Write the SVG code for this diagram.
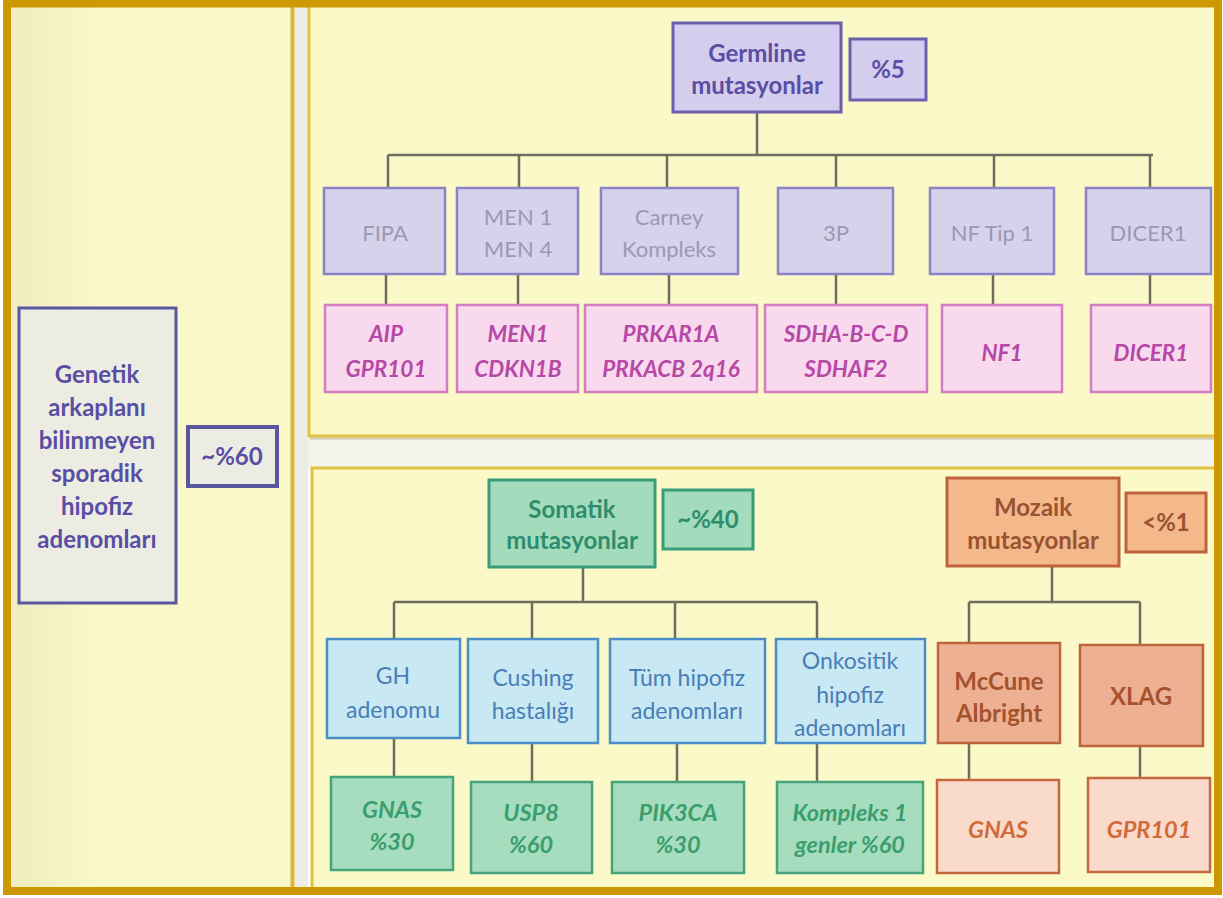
<svg xmlns="http://www.w3.org/2000/svg" width="1223" height="898" viewBox="0 0 1223 898">
<defs>
<linearGradient id="lg" x1="0" y1="0" x2="1" y2="0">
<stop offset="0" stop-color="#EEECC0"/>
<stop offset="0.3" stop-color="#FAF8C8"/>
<stop offset="1" stop-color="#FAF8C8"/>
</linearGradient>
<style>
text{font-family:Lato,"Liberation Sans",sans-serif;text-anchor:middle}
.con{fill:none;stroke:#6E6E5E;stroke-width:2.5}
.pur{fill:#D4CDEE;stroke:#6C60AE;stroke-width:3}
.purt{fill:#5A4EA4;font-weight:bold;font-size:24px}
.lav{fill:#D7D2EC;stroke:#8B83C6;stroke-width:2.5}
.lavt{fill:#9A98B4;font-size:22px}
.pink{fill:#F9D9EE;stroke:#D47DC0;stroke-width:2.5}
.pinkt{fill:#B648A6;font-weight:bold;font-style:italic;font-size:22.5px}
.grn{fill:#A3DCBC;stroke:#3A9C7A;stroke-width:3}
.grnt{fill:#2E8D6C;font-weight:bold;font-size:24px}
.blu{fill:#C8E8F4;stroke:#4A8EC8;stroke-width:2.5}
.blut{fill:#4A7EB6;font-size:23px}
.gg{fill:#A6DDBE;stroke:#45A47E;stroke-width:2.5}
.ggt{fill:#3A9E6E;font-weight:bold;font-style:italic;font-size:23.5px}
.org{fill:#F4B98B;stroke:#BF633A;stroke-width:3}
.orgt{fill:#9A5230;font-weight:bold;font-size:24px}
.sal{fill:#EEB093;stroke:#BF633A;stroke-width:2.5}
.salt{fill:#A6522E;font-weight:bold;font-size:24px}
.pch{fill:#FADACB;stroke:#C4683E;stroke-width:2.5}
.pcht{fill:#CF6C3A;font-weight:bold;font-style:italic;font-size:23.5px}
</style>
</defs>
<rect x="0" y="0" width="1223" height="898" fill="#FFFFFF"/>
<rect x="11" y="7" width="282" height="881" fill="url(#lg)"/>
<rect x="295" y="7" width="13" height="881" fill="#ECECE4"/>
<line x1="292.500" y1="7" x2="292.500" y2="888" stroke="#D9B83A" stroke-width="4"/>
<rect x="308" y="436" width="906" height="32" fill="#F3F3EC"/>
<rect x="309" y="5" width="909" height="431" fill="#FBF9C8" stroke="#E0C343" stroke-width="3"/>
<line x1="310" y1="438.500" x2="1214" y2="438.500" stroke="#CFC8A8" stroke-width="2"/>
<rect x="312" y="468" width="906" height="423" fill="#FBF9C8" stroke="#E0C343" stroke-width="3"/>
<rect x="7" y="3.500" width="1211" height="887.500" fill="none" stroke="#CC9900" stroke-width="8"/>

<g id="connectors">
<path class="con" d="M757 112V155M388 155H1153M388 155V188M519 155V188M667 155V188M836 155V188M994 155V188M1150 155V188"/>
<path class="con" d="M386 274V305M518 274V305M669 274V305M836 274V305M993 274V305M1150 274V305"/>
<path class="con" d="M583 567V602M394 602H817M394 602V639M532 602V639M675 602V639M817 602V639"/>
<path class="con" d="M394 738V777M532 743V782M677 743V782M817 743V782"/>
<path class="con" d="M1052 566V602M969 602H1140M969 602V643M1140 602V645"/>
<path class="con" d="M969 743V780M1140 746V778"/>
</g>

<g id="left">
<rect x="19" y="308" width="157" height="295" fill="#ECECE3" stroke="#5A56A0" stroke-width="3"/>
<text class="purt" x="97" y="383">Genetik</text>
<text class="purt" x="97" y="416">arkaplanı</text>
<text class="purt" x="97" y="449">bilinmeyen</text>
<text class="purt" x="97" y="482">sporadik</text>
<text class="purt" x="97" y="515">hipofiz</text>
<text class="purt" x="97" y="548">adenomları</text>
</g>
<g id="p60">
<rect x="188" y="427" width="89" height="59" fill="#ECECE3" stroke="#5A56A0" stroke-width="4"/>
<text class="purt" font-size="23" x="232" y="465">~%60</text>
</g>

<g id="germline">
<rect class="pur" x="673" y="23" width="168" height="89"/>
<text class="purt" x="757" y="62">Germline</text>
<text class="purt" x="757" y="94">mutasyonlar</text>
</g>
<g id="p5">
<rect class="pur" x="850" y="39" width="76" height="61" stroke-width="4"/>
<text class="purt" font-size="23" x="888" y="78">%5</text>
</g>

<g id="fipa"><rect class="lav" x="324" y="188" width="121" height="86"/><text class="lavt" x="385" y="241">FIPA</text></g>
<g id="men"><rect class="lav" x="457" y="188" width="121" height="86"/><text class="lavt" x="518" y="225">MEN 1</text><text class="lavt" x="518" y="257">MEN 4</text></g>
<g id="carney"><rect class="lav" x="601" y="188" width="137" height="86"/><text class="lavt" x="669" y="225">Carney</text><text class="lavt" x="669" y="257">Kompleks</text></g>
<g id="p3"><rect class="lav" x="778" y="188" width="115" height="86"/><text class="lavt" x="836" y="241">3P</text></g>
<g id="nf"><rect class="lav" x="930" y="188" width="124" height="86"/><text class="lavt" x="992" y="241">NF Tip 1</text></g>
<g id="dicer"><rect class="lav" x="1086" y="188" width="125" height="86"/><text class="lavt" x="1148" y="241">DICER1</text></g>

<g id="aip"><rect class="pink" x="325" y="305" width="122" height="87"/><text class="pinkt" x="386" y="342">AIP</text><text class="pinkt" x="386" y="377">GPR101</text></g>
<g id="men1"><rect class="pink" x="457" y="305" width="121" height="87"/><text class="pinkt" x="518" y="342">MEN1</text><text class="pinkt" x="518" y="377">CDKN1B</text></g>
<g id="prkar"><rect class="pink" x="585" y="305" width="172" height="87"/><text class="pinkt" x="671" y="342">PRKAR1A</text><text class="pinkt" x="671" y="377">PRKACB 2q16</text></g>
<g id="sdha"><rect class="pink" x="765" y="305" width="162" height="87"/><text class="pinkt" x="846" y="342">SDHA-B-C-D</text><text class="pinkt" x="846" y="377">SDHAF2</text></g>
<g id="nf1"><rect class="pink" x="942" y="305" width="120" height="87"/><text class="pinkt" x="1002" y="361">NF1</text></g>
<g id="dicer1"><rect class="pink" x="1091" y="305" width="120" height="87"/><text class="pinkt" x="1151" y="361">DICER1</text></g>

<g id="somatik">
<rect class="grn" x="489" y="480" width="166" height="87"/>
<text class="grnt" x="572" y="518">Somatik</text>
<text class="grnt" x="572" y="549">mutasyonlar</text>
</g>
<g id="p40">
<rect class="grn" x="663" y="490" width="90" height="59" stroke-width="4"/>
<text class="grnt" font-size="23.5" x="708" y="528">~%40</text>
</g>

<g id="gh"><rect class="blu" x="327" y="639" width="133" height="99"/><text class="blut" x="393" y="684">GH</text><text class="blut" x="393" y="718">adenomu</text></g>
<g id="cushing"><rect class="blu" x="468" y="639" width="130" height="104"/><text class="blut" x="533" y="686">Cushing</text><text class="blut" x="533" y="719">hastalığı</text></g>
<g id="tum"><rect class="blu" x="610" y="639" width="155" height="104"/><text class="blut" x="687" y="686">Tüm hipofiz</text><text class="blut" x="687" y="719">adenomları</text></g>
<g id="onko"><rect class="blu" x="776" y="639" width="149" height="104"/><text class="blut" x="850" y="669">Onkositik</text><text class="blut" x="850" y="703">hipofiz</text><text class="blut" x="850" y="736">adenomları</text></g>

<g id="gnas"><rect class="gg" x="331" y="777" width="122" height="93"/><text class="ggt" x="392" y="818">GNAS</text><text class="ggt" x="392" y="850">%30</text></g>
<g id="usp8"><rect class="gg" x="471" y="782" width="121" height="91"/><text class="ggt" x="531" y="821">USP8</text><text class="ggt" x="531" y="853">%60</text></g>
<g id="pik3ca"><rect class="gg" x="612" y="782" width="132" height="91"/><text class="ggt" x="678" y="821">PIK3CA</text><text class="ggt" x="678" y="853">%30</text></g>
<g id="kompleks"><rect class="gg" x="777" y="782" width="146" height="91"/><text class="ggt" font-size="22" x="850" y="821">Kompleks 1</text><text class="ggt" font-size="22" x="850" y="853">genler %60</text></g>

<g id="mozaik">
<rect class="org" x="947" y="478" width="172" height="88"/>
<text class="orgt" x="1033" y="516">Mozaik</text>
<text class="orgt" x="1033" y="549">mutasyonlar</text>
</g>
<g id="p1">
<rect class="org" x="1126" y="493" width="80" height="59" stroke-width="4"/>
<text class="orgt" font-size="23" x="1166" y="531">&lt;%1</text>
</g>

<g id="mccune"><rect class="sal" x="938" y="643" width="122" height="100"/><text class="salt" x="999" y="690">McCune</text><text class="salt" x="999" y="722">Albright</text></g>
<g id="xlag"><rect class="sal" x="1080" y="645" width="123" height="101"/><text class="salt" font-size="23" x="1141" y="705">XLAG</text></g>
<g id="gnas2"><rect class="pch" x="937" y="780" width="122" height="93"/><text class="pcht" x="998" y="838">GNAS</text></g>
<g id="gpr101"><rect class="pch" x="1088" y="778" width="122" height="94"/><text class="pcht" x="1149" y="838">GPR101</text></g>
</svg>
